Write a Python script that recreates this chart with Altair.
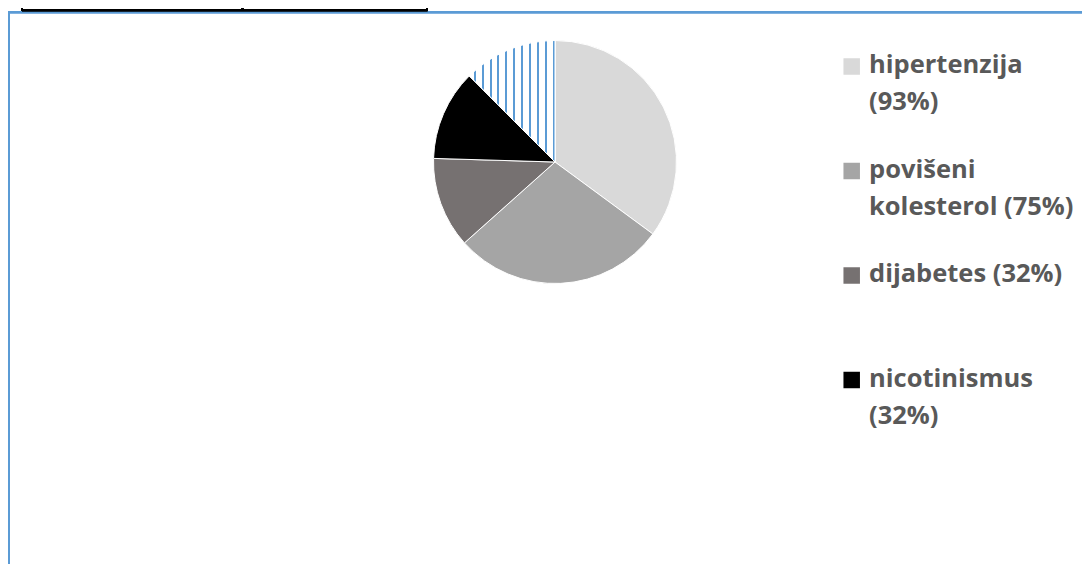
import math
import altair as alt
import pandas as pd

# ---- data ----
categories = ["hipertenzija", "povišeni kolesterol", "dijabetes", "nicotinismus", "ostalo"]
values = [93, 75, 32, 32, 33]
legend_labels = ["hipertenzija\n(93%)", "povišeni\nkolesterol (75%)", "dijabetes (32%)",
                 "nicotinismus\n(32%)", ""]
in_legend = [True, True, True, True, False]
colors = ["#D9D9D9", "#A5A5A5", "#767171", "#000000", "#FFFFFF"]

df = pd.DataFrame({
    "cat": categories,
    "value": values,
    "order": list(range(len(categories))),
    "label": legend_labels,
    "inLegend": in_legend,
})

# ---- layout / style ----
W, H = 1074, 556
CX, CY, R = 547, 154, 121.5
BLUE = "#5B9BD5"
TEXT = "#595959"

# vertical stripe pattern for the unlabeled slice (gradient across its bounding box)
box_w = R * math.sin(2 * math.pi * values[-1] / sum(values))
stripes = sorted(1 - (1.3 + 7.9 * k) / box_w for k in range(11))
half = 1.0 / box_w
stops = [{"offset": 0, "color": "white"}]
for c in stripes:
    lo, hi = max(c - half, 0), min(c + half, 1)
    stops += [{"offset": lo, "color": "white"}, {"offset": lo, "color": BLUE},
              {"offset": hi, "color": BLUE}, {"offset": hi, "color": "white"}]
stops.append({"offset": 1, "color": "white"})
stripe_fill = {"gradient": "linear", "x1": 0, "y1": 0, "x2": 1, "y2": 0, "stops": stops}

base = (
    alt.Chart(df)
    .transform_joinaggregate(total="sum(value)")
    .transform_window(cum="sum(value)", sort=[alt.SortField("order")], frame=[None, 0])
    .transform_calculate(
        a0="(datum.cum - datum.value) / datum.total * 2 * PI",
        a1="datum.cum / datum.total * 2 * PI",
        lines="split(datum.label, '\\n')",
    )
)

color = alt.Color("cat:N", scale=alt.Scale(domain=categories, range=colors), legend=None)

pie = base.mark_arc(outerRadius=R, stroke="white", strokeWidth=1).encode(
    theta=alt.Theta("a0:Q", scale=None),
    theta2="a1:Q",
    color=color,
    x=alt.value(CX),
    y=alt.value(CY),
)

striped = base.transform_filter("!datum.inLegend").mark_arc(
    outerRadius=R, fill=stripe_fill, stroke="white", strokeWidth=1
).encode(
    theta=alt.Theta("a0:Q", scale=None),
    theta2="a1:Q",
    x=alt.value(CX),
    y=alt.value(CY),
)

leg_y = alt.Y("order:Q", scale=alt.Scale(domain=[0, 3], range=[58.5, 372]), axis=None)

leg_sq = base.transform_filter("datum.inLegend").mark_square(size=272, opacity=1).encode(
    x=alt.value(843.7), y=leg_y, color=color
)

leg_txt = base.transform_filter("datum.inLegend").mark_text(
    align="left", baseline="alphabetic", dy=6.5, font="Open Sans", fontWeight="bold",
    fontSize=25.5, lineHeight=37, color=TEXT,
).encode(x=alt.value(861), y=leg_y, text=alt.Text("lines:N"))

# frame of the chart area and the table edge above it
frame_left = alt.Chart(df).mark_rule(color=BLUE, strokeWidth=2).encode(
    x=alt.value(1), y=alt.value(4), y2=alt.value(H))
frame_top = alt.Chart(df).mark_rule(color=BLUE, strokeWidth=2).encode(
    x=alt.value(0), x2=alt.value(W), y=alt.value(4.2))
table_h = alt.Chart(df).mark_rule(color="black", strokeWidth=2).encode(
    x=alt.value(14), x2=alt.value(419.5), y=alt.value(2.2))
table_v1 = alt.Chart(df).mark_rule(color="black", strokeWidth=2).encode(
    x=alt.value(14), y=alt.value(0), y2=alt.value(3))
table_v2 = alt.Chart(df).mark_rule(color="black", strokeWidth=2).encode(
    x=alt.value(234.5), y=alt.value(0), y2=alt.value(3))
table_v3 = alt.Chart(df).mark_rule(color="black", strokeWidth=2).encode(
    x=alt.value(419), y=alt.value(0), y2=alt.value(3))

chart = (
    alt.layer(frame_left, frame_top, table_h, table_v1, table_v2, table_v3,
              pie, striped, leg_sq, leg_txt)
    .properties(width=W, height=H, padding=0, autosize=alt.AutoSizeParams(type="none"),
                background="white")
    .configure_view(stroke=None)
)

chart.save("out.html", embed_options={"renderer": "svg", "actions": False})
